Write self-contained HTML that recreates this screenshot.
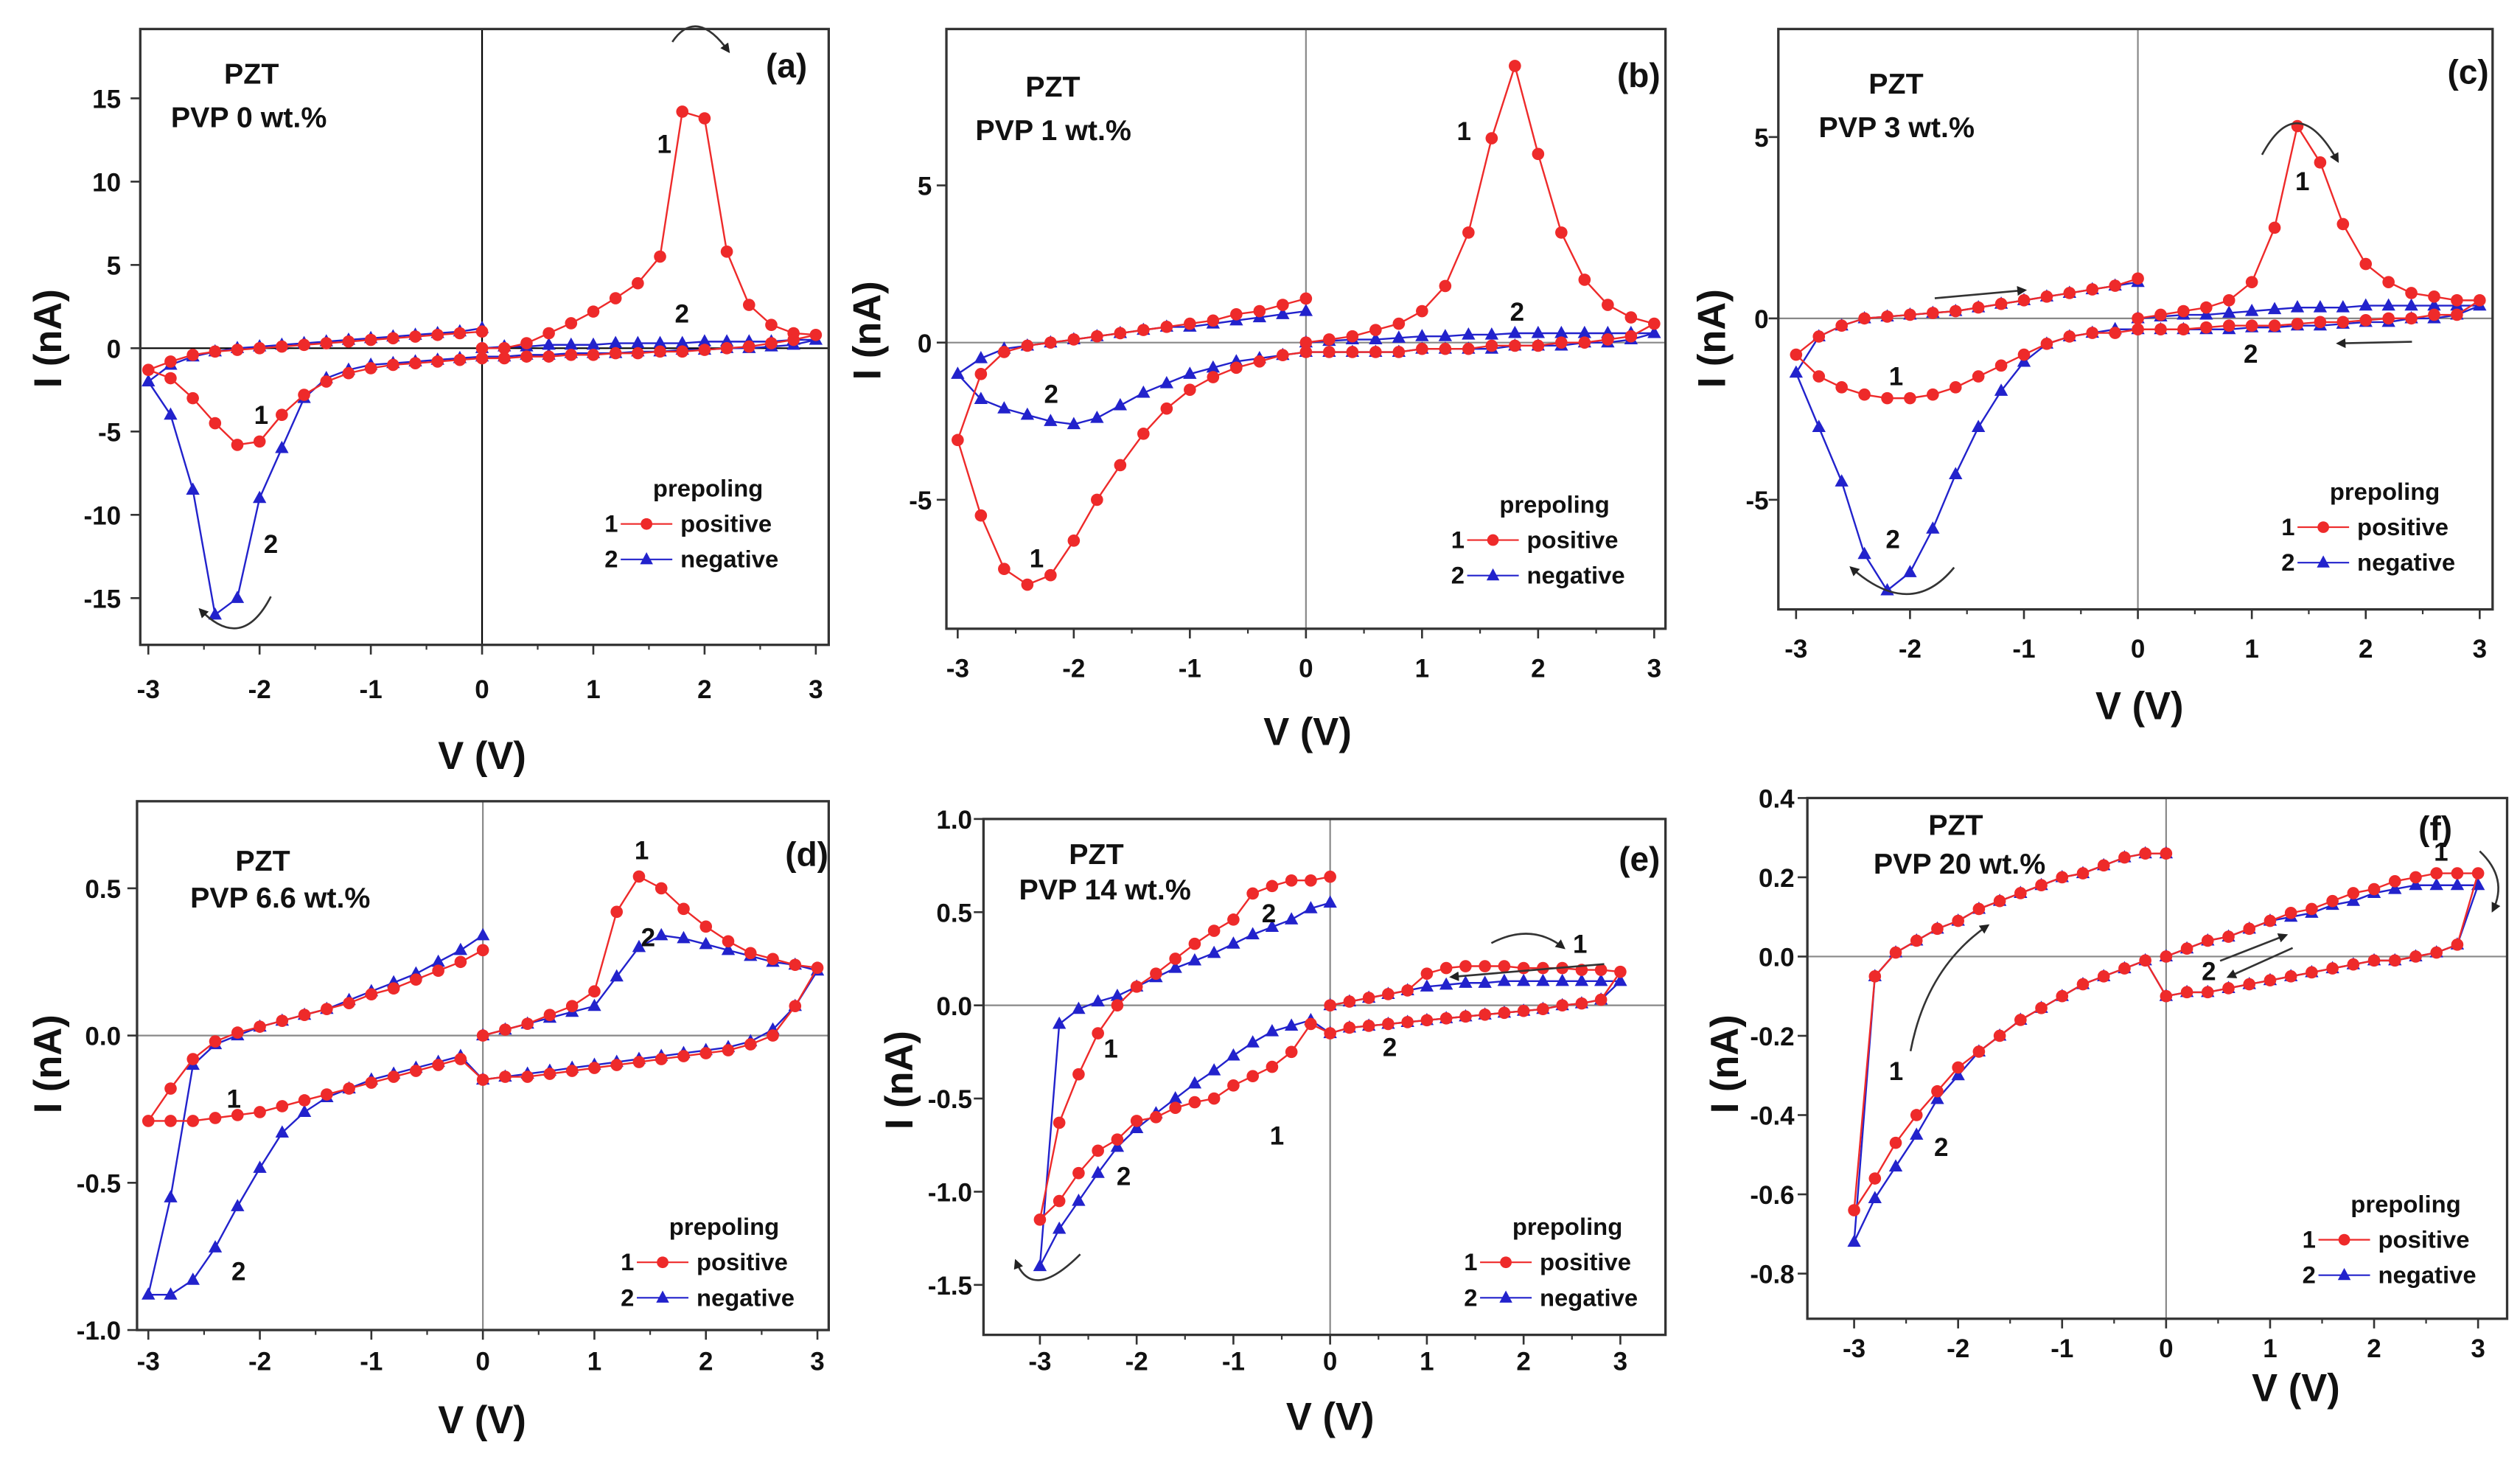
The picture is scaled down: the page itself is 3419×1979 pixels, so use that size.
<!DOCTYPE html>
<html><head><meta charset="utf-8">
<style>
html,body{margin:0;padding:0;background:#fff;}
svg{display:block;}
text{font-family:"Liberation Sans",Arial,sans-serif;font-weight:bold;fill:#111;}
</style></head>
<body>
<svg id="fig" width="3419" height="1979" viewBox="0 0 1563 905" preserveAspectRatio="none" xmlns="http://www.w3.org/2000/svg">
<defs>
<marker id="ah" viewBox="0 0 10 10" refX="8" refY="5" markerWidth="5" markerHeight="5" orient="auto"><path d="M0,0 L10,5 L0,10 z" fill="#222"/></marker>
</defs>
</svg>
<script>
// shared voltage sweep grid: 0 -> 3 -> -3 -> 0
const vGrid = [0,0.2,0.4,0.6,0.8,1.0,1.2,1.4,1.6,1.8,2.0,2.2,2.4,2.6,2.8,3.0,
 2.8,2.6,2.4,2.2,2.0,1.8,1.6,1.4,1.2,1.0,0.8,0.6,0.4,0.2,0.0,
 -0.2,-0.4,-0.6,-0.8,-1.0,-1.2,-1.4,-1.6,-1.8,-2.0,-2.2,-2.4,-2.6,-2.8,-3.0,
 -2.8,-2.6,-2.4,-2.2,-2.0,-1.8,-1.6,-1.4,-1.2,-1.0,-0.8,-0.6,-0.4,-0.2,0.0];

const aPos = [0,0,0.3,0.9,1.5,2.2,3,3.9,5.5,14.2,13.8,5.8,2.6,1.4,0.9,0.8,
 0.5,0.3,0.1,0,-0.1,-0.2,-0.2,-0.3,-0.3,-0.4,-0.4,-0.5,-0.5,-0.6,-0.6,
 -0.7,-0.8,-0.9,-1,-1.2,-1.5,-2,-2.8,-4,-5.6,-5.8,-4.5,-3,-1.8,-1.3,
 -0.8,-0.4,-0.2,-0.1,0,0.1,0.2,0.3,0.4,0.5,0.6,0.7,0.8,0.9,1.0];
const aNeg = [0,0.1,0.1,0.2,0.2,0.2,0.3,0.3,0.3,0.3,0.4,0.4,0.4,0.4,0.5,0.5,
 0.2,0.1,0,0,-0.1,-0.1,-0.2,-0.2,-0.3,-0.3,-0.3,-0.4,-0.4,-0.5,-0.5,
 -0.6,-0.7,-0.8,-0.9,-1,-1.3,-1.8,-3,-6,-9,-15,-16,-8.5,-4,-2,
 -1,-0.5,-0.2,0,0.1,0.2,0.3,0.4,0.5,0.6,0.7,0.8,0.9,1.0,1.2];
const bPos = [0,0.1,0.2,0.4,0.6,1,1.8,3.5,6.5,8.8,6,3.5,2,1.2,0.8,0.6,
 0.2,0.1,0,0,-0.1,-0.1,-0.1,-0.2,-0.2,-0.2,-0.3,-0.3,-0.3,-0.3,-0.3,
 -0.4,-0.6,-0.8,-1.1,-1.5,-2.1,-2.9,-3.9,-5,-6.3,-7.4,-7.7,-7.2,-5.5,-3.1,
 -1,-0.3,-0.1,0,0.1,0.2,0.3,0.4,0.5,0.6,0.7,0.9,1.0,1.2,1.4];
const bNeg = [0,0.05,0.1,0.1,0.15,0.2,0.2,0.25,0.25,0.3,0.3,0.3,0.3,0.3,0.3,0.3,
 0.1,0,0,-0.1,-0.1,-0.1,-0.2,-0.2,-0.2,-0.2,-0.3,-0.3,-0.3,-0.3,-0.3,
 -0.4,-0.5,-0.6,-0.8,-1.0,-1.3,-1.6,-2.0,-2.4,-2.6,-2.5,-2.3,-2.1,-1.8,-1.0,
 -0.5,-0.2,-0.1,0,0.1,0.2,0.3,0.4,0.5,0.5,0.6,0.7,0.8,0.9,1.0];
const cPos = [0,0.1,0.2,0.3,0.5,1,2.5,5.3,4.3,2.6,1.5,1,0.7,0.6,0.5,0.5,
 0.1,0.1,0,0,-0.05,-0.1,-0.1,-0.15,-0.2,-0.2,-0.2,-0.25,-0.3,-0.3,-0.3,
 -0.4,-0.4,-0.5,-0.7,-1.0,-1.3,-1.6,-1.9,-2.1,-2.2,-2.2,-2.1,-1.9,-1.6,-1.0,
 -0.5,-0.2,0,0.05,0.1,0.15,0.2,0.3,0.4,0.5,0.6,0.7,0.8,0.9,1.1];
const cNeg = [0,0.05,0.1,0.1,0.15,0.2,0.25,0.3,0.3,0.3,0.35,0.35,0.35,0.35,0.35,0.35,
 0.1,0,0,-0.1,-0.1,-0.15,-0.2,-0.2,-0.25,-0.25,-0.3,-0.3,-0.3,-0.3,-0.3,
 -0.3,-0.4,-0.5,-0.7,-1.2,-2.0,-3.0,-4.3,-5.8,-7.0,-7.5,-6.5,-4.5,-3,-1.5,
 -0.5,-0.2,0,0.05,0.1,0.15,0.2,0.3,0.4,0.5,0.6,0.7,0.8,0.9,1.0];
const dPos = [0,0.02,0.04,0.07,0.1,0.15,0.42,0.54,0.5,0.43,0.37,0.32,0.28,0.26,0.24,0.23,
 0.1,0,-0.03,-0.05,-0.06,-0.07,-0.08,-0.09,-0.1,-0.11,-0.12,-0.13,-0.14,-0.14,-0.15,
 -0.08,-0.1,-0.12,-0.14,-0.16,-0.18,-0.2,-0.22,-0.24,-0.26,-0.27,-0.28,-0.29,-0.29,-0.29,
 -0.18,-0.08,-0.02,0.01,0.03,0.05,0.07,0.09,0.11,0.14,0.16,0.19,0.22,0.25,0.29];
const dNeg = [0,0.02,0.04,0.06,0.08,0.1,0.2,0.3,0.34,0.33,0.31,0.29,0.27,0.25,0.24,0.22,
 0.1,0.02,-0.02,-0.04,-0.05,-0.06,-0.07,-0.08,-0.09,-0.1,-0.11,-0.12,-0.13,-0.14,-0.15,
 -0.07,-0.09,-0.11,-0.13,-0.15,-0.18,-0.21,-0.26,-0.33,-0.45,-0.58,-0.72,-0.83,-0.88,-0.88,
 -0.55,-0.1,-0.03,0,0.03,0.05,0.07,0.09,0.12,0.15,0.18,0.21,0.25,0.29,0.34];
const ePos = [0,0.02,0.04,0.06,0.08,0.17,0.2,0.21,0.21,0.21,0.2,0.2,0.2,0.19,0.19,0.18,
 0.03,0.01,0,-0.02,-0.03,-0.04,-0.05,-0.06,-0.07,-0.08,-0.09,-0.1,-0.11,-0.12,-0.15,
 -0.1,-0.25,-0.33,-0.38,-0.43,-0.5,-0.52,-0.55,-0.6,-0.62,-0.72,-0.78,-0.9,-1.05,-1.15,
 -0.63,-0.37,-0.15,0,0.1,0.17,0.25,0.33,0.4,0.46,0.6,0.64,0.67,0.67,0.69];
const eNeg = [0,0.02,0.04,0.06,0.08,0.1,0.11,0.12,0.12,0.13,0.13,0.13,0.13,0.13,0.13,0.13,
 0.03,0.01,0,-0.02,-0.03,-0.04,-0.05,-0.06,-0.07,-0.08,-0.09,-0.1,-0.11,-0.12,-0.15,
 -0.08,-0.11,-0.14,-0.2,-0.27,-0.35,-0.42,-0.5,-0.58,-0.66,-0.76,-0.9,-1.05,-1.2,-1.4,
 -0.1,-0.02,0.02,0.05,0.1,0.15,0.2,0.24,0.28,0.33,0.38,0.42,0.46,0.52,0.55];
const fPos = [0,0.02,0.04,0.05,0.07,0.09,0.11,0.12,0.14,0.16,0.17,0.19,0.2,0.21,0.21,0.21,
 0.03,0.01,0,-0.01,-0.01,-0.02,-0.03,-0.04,-0.05,-0.06,-0.07,-0.08,-0.09,-0.09,-0.1,
 -0.01,-0.03,-0.05,-0.07,-0.1,-0.13,-0.16,-0.2,-0.24,-0.28,-0.34,-0.4,-0.47,-0.56,-0.64,
 -0.05,0.01,0.04,0.07,0.09,0.12,0.14,0.16,0.18,0.2,0.21,0.23,0.25,0.26,0.26];
const fNeg = [0,0.02,0.04,0.05,0.07,0.09,0.1,0.11,0.13,0.14,0.16,0.17,0.18,0.18,0.18,0.18,
 0.03,0.01,0,-0.01,-0.01,-0.02,-0.03,-0.04,-0.05,-0.06,-0.07,-0.08,-0.09,-0.09,-0.1,
 -0.01,-0.03,-0.05,-0.07,-0.1,-0.13,-0.16,-0.2,-0.24,-0.3,-0.36,-0.45,-0.53,-0.61,-0.72,
 -0.05,0.01,0.04,0.07,0.09,0.12,0.14,0.16,0.18,0.2,0.21,0.23,0.25,0.26,0.26];

const xTickLabels = ['-3','-2','-1','0','1','2','3'];
const xTickValues = [-3,-2,-1,0,1,2,3];
const aYTicks = [15,10,5,0,-5,-10,-15];
const bYTicks = [5,0,-5];
const cYTicks = [5,0,-5];
const dYTicks = [0.5,0.0,-0.5,-1.0];
const eYTicks = [1.0,0.5,0.0,-0.5,-1.0,-1.5];
const fYTicks = [0.4,0.2,0.0,-0.2,-0.4,-0.6,-0.8];

const NS='http://www.w3.org/2000/svg';
const svg=document.getElementById('fig');
function mk(tag,attrs,parent){const e=document.createElementNS(NS,tag);for(const k in attrs)e.setAttribute(k,attrs[k]);(parent||svg).appendChild(e);return e;}
function txt(s,x,y,size,parent,anchor){const t=mk('text',{x:x,y:y,'font-size':size,'text-anchor':anchor||'start'},parent);t.textContent=s;return t;}

const panels=[
 {id:'a',box:[87,18,514,400],xm3:92,xp3:506,yRef:[15,61,-15,371],ticks:aYTicks,dec:0,zc:'#000',
  pos:aPos,neg:aNeg,yLabX:75,xLabY:433,title:[299,477],ytitle:[30,210],
  pzt:[139,52],pvp:[106,79,'PVP 0 wt.%'],tag:[475,48,'(a)'],leg:[375,308],
  nums:[['1',412,95],['2',423,200],['1',162,263],['2',168,343]],
  arrows:['M417,26 Q432,4 452,32','M168,370 Q150,405 124,378']},
 {id:'b',box:[587,18,1033,390],xm3:594,xp3:1026,yRef:[5,115,-5,310],ticks:bYTicks,dec:0,zc:'#888',
  pos:bPos,neg:bNeg,yLabX:578,xLabY:420,title:[811,462],ytitle:[538,205],
  pzt:[636,60],pvp:[605,87,'PVP 1 wt.%'],tag:[1003,54,'(b)'],leg:[900,318],
  nums:[['1',908,87],['2',941,199],['2',652,250],['1',643,352]],arrows:[]},
 {id:'c',box:[1103,18,1546,378],xm3:1114,xp3:1538,yRef:[5,85,-5,310],ticks:cYTicks,dec:0,zc:'#888',
  pos:cPos,neg:cNeg,yLabX:1097,xLabY:408,title:[1327,446],ytitle:[1062,210],
  pzt:[1159,58],pvp:[1128,85,'PVP 3 wt.%'],tag:[1518,52,'(c)'],leg:[1415,310],
  nums:[['1',1428,118],['2',1396,225],['1',1176,239],['2',1174,340]],
  arrows:['M1403,96 Q1425,55 1450,100','M1212,352 Q1185,385 1148,352','M1200,185 L1256,180','M1496,212 L1450,213']},
 {id:'d',box:[85,497,514,825],xm3:92,xp3:507,yRef:[0.5,551,-1.0,825],ticks:dYTicks,dec:1,zc:'#888',
  pos:dPos,neg:dNeg,yLabX:75,xLabY:850,title:[299,889],ytitle:[30,660],
  pzt:[146,540],pvp:[118,563,'PVP 6.6 wt.%'],tag:[487,537,'(d)'],leg:[385,766],
  nums:[['1',398,533],['2',402,587],['1',145,687],['2',148,794]],arrows:[]},
 {id:'e',box:[610,508,1033,828],xm3:645,xp3:1005,yRef:[1.0,508,-1.5,797],ticks:eYTicks,dec:1,zc:'#888',
  pos:ePos,neg:eNeg,yLabX:603,xLabY:850,title:[825,887],ytitle:[558,670],
  pzt:[663,536],pvp:[632,558,'PVP 14 wt.%'],tag:[1004,540,'(e)'],leg:[908,766],
  nums:[['1',980,591],['2',862,655],['2',787,572],['1',689,656],['1',792,710],['2',697,735]],
  arrows:['M670,778 Q640,808 630,782','M925,585 Q950,572 970,588','M995,598 L900,606']},
 {id:'f',box:[1121,495,1555,818],xm3:1150,xp3:1537,yRef:[0.4,495,-0.8,790],ticks:fYTicks,dec:1,zc:'#888',
  pos:fPos,neg:fNeg,yLabX:1113,xLabY:842,title:[1424,869],ytitle:[1070,660],
  pzt:[1196,518],pvp:[1162,542,'PVP 20 wt.%'],tag:[1500,521,'(f)'],leg:[1428,752],
  nums:[['1',1514,534],['2',1370,608],['1',1176,670],['2',1204,717]],
  arrows:['M1185,652 Q1195,600 1233,574','M1422,588 L1382,606','M1377,596 L1418,580','M1538,528 Q1556,545 1546,565']}
];

panels.forEach(function(p){
 const g=mk('g',{});
 
 
 const [x0,y0,x1,y1]=p.box;
 const sx=v=>p.xm3+(v+3)/6*(p.xp3-p.xm3);
 const sy=i=>p.yRef[1]+(i-p.yRef[0])/(p.yRef[2]-p.yRef[0])*(p.yRef[3]-p.yRef[1]);
 const zl=mk('line',{x1:sx(0),y1:y0,x2:sx(0),y2:y1,stroke:p.zc,'stroke-width':1},g);
 
 
 const zh=mk('line',{x1:x0,y1:sy(0),x2:x1,y2:sy(0),stroke:p.zc,'stroke-width':1},g);
 
 
 [[p.neg,'#2222cc','negative'],[p.pos,'#ee2a2a','positive']].forEach(function(s){
  const sg=mk('g',{},g);
  
  
  let d='';
  vGrid.forEach((v,k)=>{d+=(k?'L':'M')+sx(v).toFixed(1)+','+sy(s[0][k]).toFixed(1);});
  const ln=mk('path',{d:d,fill:'none',stroke:s[1],'stroke-width':1.1},sg);
  
  
  vGrid.forEach((v,k)=>{
   const cx=sx(v),cy=sy(s[0][k]);let m;
   if(s[2]==='positive'){m=mk('circle',{cx:cx,cy:cy,r:3.8,fill:s[1]},sg);}
   else{m=mk('path',{d:'M'+cx+','+(cy-4.6)+'L'+(cx+4.2)+','+(cy+3)+'L'+(cx-4.2)+','+(cy+3)+'Z',fill:s[1]},sg);}
   
   
  });
 });
 const fr=mk('rect',{x:x0,y:y0,width:x1-x0,height:y1-y0,fill:'none',stroke:'#333','stroke-width':1.5},g);
 
 
 xTickValues.forEach((v,k)=>{
  mk('line',{x1:sx(v),y1:y1,x2:sx(v),y2:y1+6,stroke:'#333','stroke-width':1.2},g);
  if(v<3) mk('line',{x1:sx(v+0.5),y1:y1,x2:sx(v+0.5),y2:y1+3,stroke:'#333','stroke-width':1},g);
  const t=txt(xTickLabels[k],sx(v),p.xLabY,16,g,'middle');
  
  
 });
 p.ticks.forEach(v=>{
  mk('line',{x1:x0-6,y1:sy(v),x2:x0,y2:sy(v),stroke:'#333','stroke-width':1.2},g);
  const t=txt(v.toFixed(p.dec),p.yLabX,sy(v)+6,16,g,'end');
  
  
 });
 const xt=txt('V (V)',p.title[0],p.title[1],24,g,'middle');
 
 
 const yt=txt('I (nA)',0,0,24,g,'middle');
 yt.setAttribute('transform','translate('+(p.ytitle[0]+8)+','+p.ytitle[1]+') rotate(-90)');
 
 
 const pz=txt('PZT',p.pzt[0],p.pzt[1],18,g);
 
 
 const pv=txt(p.pvp[2],p.pvp[0],p.pvp[1],18,g);
 
 
 const tg=txt(p.tag[2],p.tag[0],p.tag[1],21,g);
 
 
 const lg=mk('g',{},g);
 
 
 const lx=p.leg[0],ly=p.leg[1];
 txt('prepoling',lx+30,ly,15,lg);
 [['1','positive','#ee2a2a',ly+22],['2','negative','#2222cc',ly+44]].forEach(r=>{
  const e=mk('g',{},lg);
  
  
  txt(r[0],lx,r[3],15,e);
  mk('line',{x1:lx+10,y1:r[3]-5,x2:lx+42,y2:r[3]-5,stroke:r[2],'stroke-width':1},e);
  if(r[1]==='positive') mk('circle',{cx:lx+26,cy:r[3]-5,r:3.6,fill:r[2]},e);
  else mk('path',{d:'M'+(lx+26)+','+(r[3]-9.5)+'l4,7.5h-8z',fill:r[2]},e);
  txt(r[1],lx+47,r[3],15,e);
 });
 p.nums.forEach(n=>{
  const t=txt(n[0],n[1],n[2],16,g,'middle');
  
  
 });
 p.arrows.forEach(a=>{
  const ar=mk('path',{d:a,fill:'none',stroke:'#333','stroke-width':1.2,'marker-end':'url(#ah)'},g);
  
  
 });
});
</script>
</body></html>
